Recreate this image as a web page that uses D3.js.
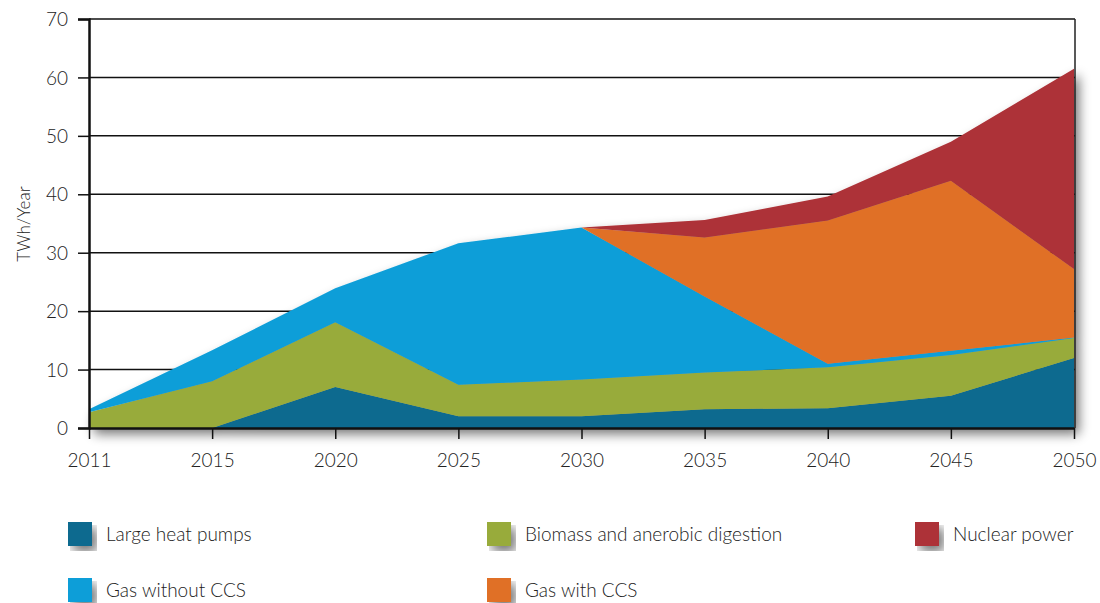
<!DOCTYPE html>
<html><head><meta charset="utf-8">
<script src="https://cdn.jsdelivr.net/npm/d3@7"></script>
<style>
html,body{margin:0;padding:0;background:#fff;}
svg{display:block;font-family:Lato,"Open Sans",sans-serif;font-weight:300;}
</style></head><body>
<svg id="chart" width="1100" height="603"></svg>
<script>
const years = ["2011","2015","2020","2025","2030","2035","2040","2045","2050"];
const seriesNames = ["Large heat pumps","Biomass and anerobic digestion","Gas without CCS","Gas with CCS","Nuclear power"];
const heatPumps   = [0, 0, 7.0, 2.0, 2.0, 3.2, 3.4, 5.5, 12.0];
const biomass     = [2.7, 8.0, 11.1, 5.4, 6.3, 6.3, 7.0, 7.0, 3.4];
const gasNoCCS    = [0.5, 5.3, 5.8, 24.2, 26.0, 13.0, 0.6, 0.7, 0.1];
const gasCCS      = [0, 0, 0, 0, 0, 10.1, 24.5, 29.1, 11.7];
const nuclear     = [0, 0, 0, 0, 0, 3.0, 4.1, 6.7, 34.3];
const yTicks = [0,10,20,30,40,50,60,70];
const colors = ["#0b6a8f","#98ab3a","#0d9ed8","#e07026","#ad3237"];

const seriesVals = [heatPumps, biomass, gasNoCCS, gasCCS, nuclear];
const keys = ["hp","bio","gas","ccs","nuc"];
const table = years.map((y,i)=>{const o={year:y}; keys.forEach((k,j)=>o[k]=seriesVals[j][i]); return o;});

const svg = d3.select("#chart");
const defs = svg.append("defs");
const f = defs.append("filter").attr("id","shadow").attr("x","-10%").attr("y","-10%").attr("width","130%").attr("height","130%");
f.append("feGaussianBlur").attr("in","SourceAlpha").attr("stdDeviation",6).attr("result","b");
f.append("feOffset").attr("in","b").attr("dx",5).attr("dy",6).attr("result","o");
f.append("feComponentTransfer").attr("in","o").attr("result","o2").append("feFuncA").attr("type","linear").attr("slope",0.55);
const m = f.append("feMerge"); m.append("feMergeNode").attr("in","o2"); m.append("feMergeNode").attr("in","SourceGraphic");

const x = d3.scalePoint().domain(years).range([89,1074]);
const y = d3.scaleLinear().domain([0,70]).range([428,19]);

// gridlines
svg.append("g").selectAll("line").data(yTicks.filter(d=>d>0)).join("line")
  .attr("x1",89).attr("x2",1075).attr("y1",d=>y(d)).attr("y2",d=>y(d))
  .attr("stroke","#111").attr("stroke-width",1.5);

const stack = d3.stack().keys(keys);
const stacked = stack(table);
const area = d3.area().x(d=>x(d.data.year)).y0(d=>y(d[0])).y1(d=>y(d[1]));
const g = svg.append("g").attr("filter","url(#shadow)");
g.selectAll("path").data(stacked).join("path")
  .attr("d",area).attr("fill",(d,i)=>colors[i]).attr("stroke","none");

// right border
svg.append("line").attr("x1",1075).attr("x2",1075).attr("y1",19).attr("y2",428).attr("stroke","#222").attr("stroke-width",1.5);

// axes
const yAxis = d3.axisLeft(y).tickValues(yTicks).tickSize(11).tickPadding(10);
const ya = svg.append("g").attr("transform","translate(89,0)").call(yAxis);
ya.select(".domain").attr("stroke","#111").attr("stroke-width",2.5);
ya.selectAll(".tick line").attr("stroke","#111").attr("stroke-width",1.5);
ya.selectAll("text").attr("font-size",19).attr("fill","#222").attr("dy","0.35em");

const xAxis = d3.axisBottom(x).tickSize(11).tickPadding(15).tickSizeOuter(0);
const xa = svg.append("g").attr("transform","translate(0,428)").call(xAxis);
xa.select(".domain").attr("stroke","#111").attr("stroke-width",2.5);
xa.selectAll(".tick line").attr("stroke","#111").attr("stroke-width",1.5);
xa.selectAll("text").attr("font-size",19).attr("fill","#222");
svg.selectAll(".tick text").style("font-family","Lato,'Open Sans',sans-serif").style("font-weight",300);

svg.append("text").attr("transform","translate(30,224) rotate(-90)").attr("text-anchor","middle")
  .attr("font-size",17).attr("fill","#222").text("TWh/Year");

// legend
const legendPos = [[68,522],[487,522],[915,522],[68,578],[487,578]];
const legendOrder = [0,1,4,2,3];
const lg = svg.append("g");
legendOrder.forEach((si,k)=>{
  const [lx,ly]=legendPos[k];
  lg.append("rect").attr("x",lx).attr("y",ly).attr("width",24).attr("height",24).attr("fill",colors[si]).attr("filter","url(#shadow)");
  lg.append("text").attr("x",lx+38).attr("y",ly+19).attr("font-size",19).attr("fill","#222").text(seriesNames[si]);
});
</script>
</body></html>
